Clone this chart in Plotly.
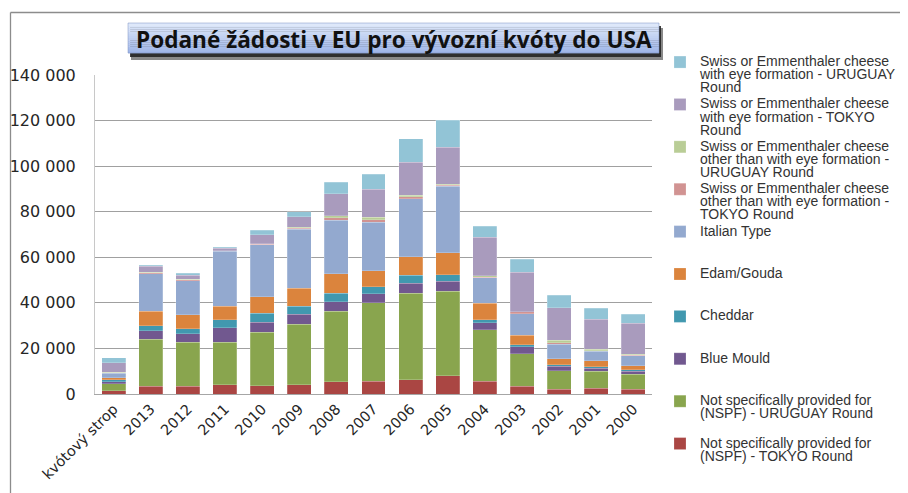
import plotly.graph_objects as go

categories = ["kvótový strop", "2013", "2012", "2011", "2010", "2009", "2008", "2007",
              "2006", "2005", "2004", "2003", "2002", "2001", "2000"]

nspf_tokyo = [1500, 3500, 3400, 4100, 3650, 4100, 5400, 5600, 6300, 8000, 5600, 3400, 2100, 2500, 2100]
nspf_uruguay = [2900, 20500, 19400, 18700, 23500, 26600, 31000, 34500, 37900, 37100, 22500, 14200, 8200, 7500, 6600]
blue_mould = [900, 3800, 3700, 6300, 4400, 4400, 4100, 3800, 4500, 4400, 3200, 3200, 1900, 1300, 1200]
cheddar = [900, 2200, 2200, 3500, 3800, 3400, 3800, 3200, 3500, 2900, 1200, 900, 700, 700, 700]
edam_gouda = [900, 6300, 6000, 6000, 7300, 8000, 8500, 7000, 8000, 9500, 7300, 4000, 2600, 2500, 1800]
italian = [2100, 16400, 14900, 24000, 22800, 25700, 23500, 21200, 25600, 29200, 11300, 9500, 6400, 4200, 4400]
swiss_other_tokyo = [200, 500, 600, 200, 300, 600, 1000, 1100, 700, 600, 200, 900, 700, 200, 150]
swiss_other_uruguay = [200, 300, 100, 100, 200, 450, 1000, 1100, 700, 450, 600, 100, 900, 700, 600]
swiss_eye_tokyo = [4100, 2500, 1900, 1000, 4000, 4500, 9500, 12300, 14600, 16100, 16800, 17200, 14300, 13200, 13400]
swiss_eye_uruguay = [2300, 600, 700, 600, 1900, 2200, 5100, 6700, 10200, 11800, 5000, 5700, 5600, 4800, 4100]

series_names = [
    ["Not specifically provided for", "(NSPF) - TOKYO Round"],
    ["Not specifically provided for", "(NSPF) - URUGUAY Round"],
    ["Blue Mould"],
    ["Cheddar"],
    ["Edam/Gouda"],
    ["Italian Type"],
    ["Swiss or Emmenthaler cheese", "other than with eye formation -", "TOKYO Round"],
    ["Swiss or Emmenthaler cheese", "other than with eye formation -", "URUGUAY Round"],
    ["Swiss or Emmenthaler cheese", "with eye formation - TOKYO", "Round"],
    ["Swiss or Emmenthaler cheese", "with eye formation - URUGUAY", "Round"],
]
series_values = [nspf_tokyo, nspf_uruguay, blue_mould, cheddar, edam_gouda, italian,
                 swiss_other_tokyo, swiss_other_uruguay, swiss_eye_tokyo, swiss_eye_uruguay]
series_colors = ["#AA4643", "#89A54E", "#71588F", "#4198AF", "#DB843D", "#93A9CF",
                 "#D19392", "#B9CD96", "#A99BBD", "#92C4D6"]

y_tickvals = [0, 20000, 40000, 60000, 80000, 100000, 120000, 140000]
y_ticktext = ["0", "20 000", "40 000", "60 000", "80 000", "100 000", "120 000", "140 000"]

title_text = "Podané žádosti v EU pro vývozní kvóty do USA"

# page has an 8px body margin; figure is 900x485 so the window shows all of it
W, H = 900, 485
L, R, T, B = 87, 256, 67, 99
PW, PH = W - L - R, H - T - B
PLOT_LEFT_WIN, PLOT_BOTTOM_WIN = 95, 394


def px(x):  # window pixel -> paper x
    return (x - PLOT_LEFT_WIN) / PW


def py(y):  # window pixel -> paper y
    return (PLOT_BOTTOM_WIN - y) / PH


def legend_name(lines):
    lines = list(lines) + [" "] * (3 - len(lines))
    return "<br>".join('<span style="font-size:14px">%s</span>' % ln for ln in lines)


fig = go.Figure()
for name, vals, col in zip(series_names, series_values, series_colors):
    fig.add_trace(go.Bar(
        x=categories, y=vals, name=legend_name(name),
        marker=dict(color=col, line=dict(color="rgba(255,255,255,0.35)", width=0.6)),
    ))

shapes = []
# outer chart border (top and left)
shapes.append(dict(type="line", xref="paper", yref="paper", x0=px(10.5), x1=px(920),
                   y0=py(12.5), y1=py(12.5), line=dict(color="#8C8C8C", width=1.3)))
shapes.append(dict(type="line", xref="paper", yref="paper", x0=px(10.5), x1=px(10.5),
                   y0=py(12.5), y1=py(510), line=dict(color="#8C8C8C", width=1.3)))
# title box shadow
shapes.append(dict(type="rect", xref="paper", yref="paper", x0=px(131), x1=px(663),
                   y0=py(60), y1=py(28), line=dict(width=0), fillcolor="rgba(40,40,40,0.55)"))
shapes.append(dict(type="rect", xref="paper", yref="paper", x0=px(130), x1=px(661),
                   y0=py(57), y1=py(26), line=dict(width=0), fillcolor="rgba(30,30,30,0.85)"))
# title box gradient
top_c = (222, 232, 250)
bot_c = (160, 182, 232)
n = 14
y_top, y_bot = 23.0, 53.0
for i in range(n):
    t = i / (n - 1)
    c = tuple(int(round(top_c[k] + (bot_c[k] - top_c[k]) * t)) for k in range(3))
    ya = y_top + (y_bot - y_top) * i / n
    yb = y_top + (y_bot - y_top) * (i + 1) / n
    shapes.append(dict(type="rect", xref="paper", yref="paper", x0=px(128), x1=px(659),
                       y0=py(yb + 0.3), y1=py(ya), line=dict(width=0),
                       fillcolor="rgb(%d,%d,%d)" % c))
shapes.append(dict(type="rect", xref="paper", yref="paper", x0=px(128), x1=px(659),
                   y0=py(y_bot), y1=py(y_top), line=dict(color="rgba(120,140,190,0.6)", width=0.8),
                   fillcolor="rgba(0,0,0,0)"))

fig.update_layout(
    width=W, height=H,
    margin=dict(l=L, r=R, t=T, b=B, autoexpand=False),
    paper_bgcolor="white", plot_bgcolor="white",
    barmode="stack", bargap=0.354,
    font=dict(family="Open Sans, Arial, sans-serif", color="#262626"),
    shapes=shapes,
    annotations=[dict(text="<b>%s</b>" % title_text, xref="paper", yref="paper",
                      x=px(394), y=py(39.5), xanchor="center", yanchor="middle",
                      showarrow=False,
                      font=dict(family="Open Sans, sans-serif", size=22.6, color="#111111"))],
    legend=dict(
        traceorder="reversed", x=px(660), y=py(49), xanchor="left", yanchor="top",
        font=dict(family="Liberation Sans, Arial, sans-serif", size=10.1, color="#333333"),
        valign="top", bgcolor="rgba(0,0,0,0)", borderwidth=0, maxheight=470,
    ),
    xaxis=dict(
        tickangle=-45, tickfont=dict(family="DejaVu Sans, sans-serif", size=14.5, color="#262626"),
        showline=True, linecolor="#A6A6A6", linewidth=1, showgrid=False, ticks="",
    ),
    yaxis=dict(
        range=[0, 140000], tickvals=y_tickvals, ticktext=y_ticktext,
        tickfont=dict(family="DejaVu Sans, sans-serif", size=16, color="#262626"),
        showgrid=True, gridcolor="#A0A0A0", gridwidth=1,
        showline=True, linecolor="#C8C8C8", linewidth=1,
        ticks="outside", ticklen=15, tickcolor="rgba(0,0,0,0)", zeroline=False,
    ),
)

fig.write_html("out.html")
